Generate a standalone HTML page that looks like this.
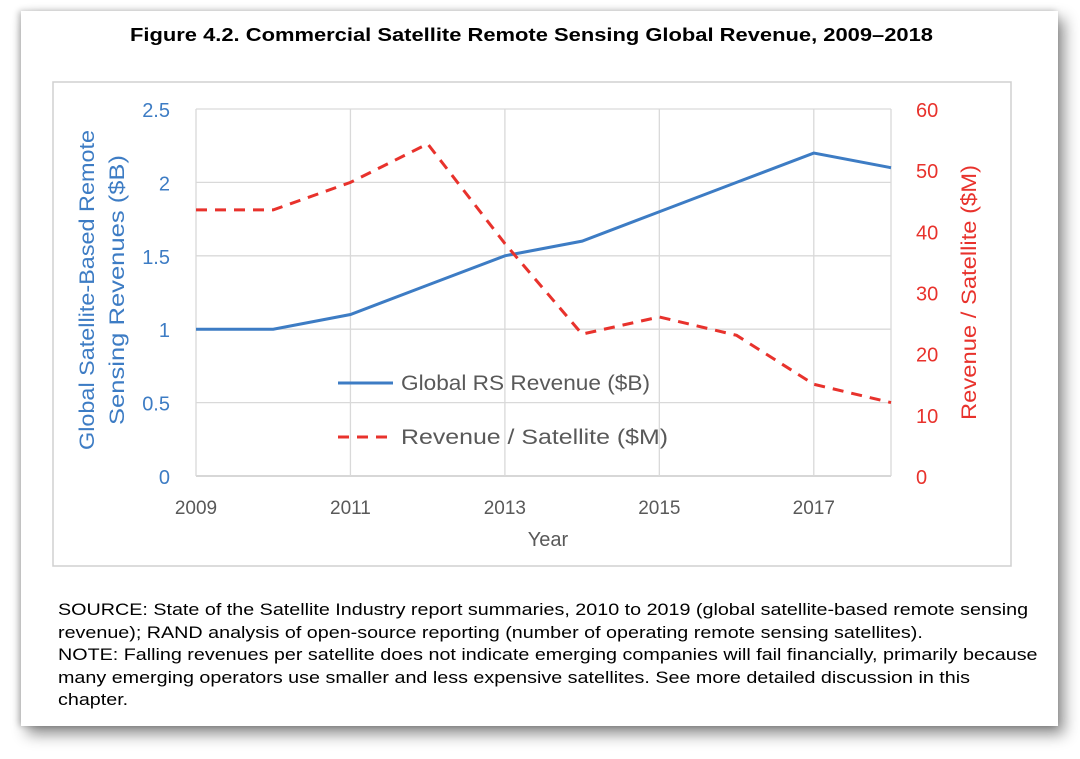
<!DOCTYPE html>
<html><head><meta charset="utf-8"><style>
body{margin:0;background:#fff;width:1080px;height:759px;overflow:hidden;font-family:"Liberation Sans",sans-serif}
#card{position:absolute;left:21px;top:11px;width:1037px;height:715px;background:#fff;box-shadow:6px 8px 14px rgba(0,0,0,0.45),-2px 0 6px rgba(0,0,0,0.25)}
#notes{position:absolute;left:58px;top:599px;font-size:17px;line-height:22.5px;color:#000;width:900px;white-space:nowrap;transform:scaleX(1.16);transform-origin:0 0}
</style></head><body>
<div id="card"></div>
<svg id="chart" width="1080" height="759" style="position:absolute;left:0;top:0"></svg>
<div id="notes">SOURCE: State of the Satellite Industry report summaries, 2010 to 2019 (global satellite-based remote sensing<br>revenue); RAND analysis of open-source reporting (number of operating remote sensing satellites).<br>NOTE: Falling revenues per satellite does not indicate emerging companies will fail financially, primarily because<br>many emerging operators use smaller and less expensive satellites. See more detailed discussion in this<br>chapter.</div>
<script>
const years=[2009,2010,2011,2012,2013,2014,2015,2016,2017,2018];
const rsRevenue=[1.0,1.0,1.1,1.3,1.5,1.6,1.8,2.0,2.2,2.1];
const perSat=[43.5,43.5,48,54.3,38,23.2,26,23,15,12];
const leftTicks=[0,0.5,1,1.5,2,2.5];
const rightTicks=[0,10,20,30,40,50,60];
const xTicks=[2009,2011,2013,2015,2017];
const NS="http://www.w3.org/2000/svg";
const svg=document.getElementById('chart');
const X0=196,X1=891,Y0=476,Y1=109;
const x=v=>X0+(v-2009)/(2018-2009)*(X1-X0);
const yl=v=>Y0-v/2.5*(Y0-Y1);
const yr=v=>Y0-v/60*(Y0-Y1);
function el(t,a,txt){const e=document.createElementNS(NS,t);for(const k in a)e.setAttribute(k,a[k]);if(txt!==undefined)e.textContent=txt;svg.appendChild(e);return e;}
const ttl=el('text',{x:130,y:41,'font-size':18.5,'font-weight':'bold',fill:'#000',textLength:803,lengthAdjust:'spacingAndGlyphs'},'Figure 4.2. Commercial Satellite Remote Sensing Global Revenue, 2009–2018');


const box=el('rect',{x:53,y:82,width:958,height:484,fill:'none',stroke:'#d0d0d0','stroke-width':1.5});


leftTicks.forEach(v=>{
  const g=el('line',{x1:X0,x2:X1,y1:yl(v),y2:yl(v),stroke:v===0?'#bfbfbf':'#d9d9d9','stroke-width':1.3});
  
  
  const t=el('text',{x:170,y:yl(v)+8,'text-anchor':'end','font-size':20,fill:'#3d7cc4'},String(v));
  
  
});
rightTicks.forEach(v=>{
  const t=el('text',{x:916,y:yr(v)+8,'font-size':20,fill:'#e8322c'},String(v));
  
  
});
xTicks.forEach(v=>{
  const g=el('line',{x1:x(v),x2:x(v),y1:Y1,y2:Y0,stroke:'#d9d9d9','stroke-width':1.3});
  
  
  const t=el('text',{x:x(v),y:514,'text-anchor':'middle','font-size':19,fill:'#595959'},String(v));
  
  
});
const rb=el('line',{x1:X1,x2:X1,y1:Y1,y2:Y0,stroke:'#d9d9d9','stroke-width':1.3});


const xt=el('text',{x:548,y:546,'text-anchor':'middle','font-size':20,fill:'#595959'},'Year');


const lt1=el('text',{transform:'translate(94,450) rotate(-90)','font-size':21,fill:'#3d7cc4',textLength:320,lengthAdjust:'spacingAndGlyphs'},'Global Satellite-Based Remote');


const lt2=el('text',{transform:'translate(124,425) rotate(-90)','font-size':21,fill:'#3d7cc4',textLength:270,lengthAdjust:'spacingAndGlyphs'},'Sensing Revenues ($B)');


const rt=el('text',{transform:'translate(976,420) rotate(-90)','font-size':21,fill:'#e8322c',textLength:255,lengthAdjust:'spacingAndGlyphs'},'Revenue / Satellite ($M)');


const bl=el('polyline',{points:years.map((v,i)=>x(v)+','+yl(rsRevenue[i])).join(' '),fill:'none',stroke:'#3d7cc4','stroke-width':3});


const rl=el('polyline',{points:years.map((v,i)=>x(v)+','+yr(perSat[i])).join(' '),fill:'none',stroke:'#e8322c','stroke-width':3,'stroke-dasharray':'11,8'});


const l1=el('line',{x1:338,x2:393,y1:383,y2:383,stroke:'#3d7cc4','stroke-width':3});


const t1=el('text',{x:401,y:390,'font-size':21,fill:'#595959',textLength:249,lengthAdjust:'spacingAndGlyphs'},'Global RS Revenue ($B)');


const l2=el('line',{x1:338,x2:395,y1:437,y2:437,stroke:'#e8322c','stroke-width':3,'stroke-dasharray':'11,8'});


const t2=el('text',{x:401,y:444,'font-size':21,fill:'#595959',textLength:267,lengthAdjust:'spacingAndGlyphs'},'Revenue / Satellite ($M)');


</script>
</body></html>
